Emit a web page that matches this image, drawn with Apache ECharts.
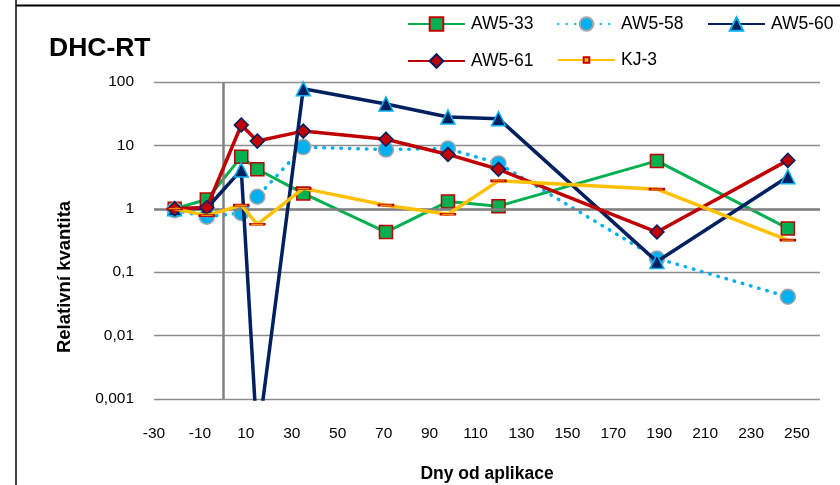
<!DOCTYPE html>
<html>
<head>
<meta charset="utf-8">
<script src="https://cdn.jsdelivr.net/npm/echarts@6/dist/echarts.min.js"></script>
<style>
  html, body { margin: 0; padding: 0; background: #fff; }
  #chart { width: 840px; height: 485px; }
</style>
</head>
<body>
<div id="chart"></div>
<script>
// Days relative to application
const days = [-21, -7, 8, 15, 35, 71, 98, 120, 189, 246];

// Relative quantity per sample
const aw533 = [1, 1.4, 6.6, 4.2, 1.75, 0.43, 1.3, 1.1, 5.7, 0.49];
const aw558 = [0.95, 0.75, 0.86, 1.55, 9.4, 8.6, 8.9, 5.2, 0.165, 0.041];
const aw560 = [1, 1.02, 4.1, 0.0002, 78, 45, 28, 26.4, 0.147, 3.2];
const aw561 = [1, 1.05, 21, 11.7, 16.8, 12.5, 7.2, 4.2, 0.43, 5.8];
const kj3   = [1, 0.78, 1.14, 0.57, 2.1, 1.14, 0.82, 2.76, 2.04, 0.32];

const seriesNames = ['AW5-33', 'AW5-58', 'AW5-60', 'AW5-61', 'KJ-3'];

const FONT = "'Liberation Sans', Arial, sans-serif";

function pairs(vals) {
  return days.map((d, i) => [d, vals[i]]);
}

// one legend entry per slot: three columns, two rows
const legendSlots = [[407, 15], [557, 15], [707, 15], [407, 52], [557, 51]];
const legends = seriesNames.map((name, i) => {
  const small = name === 'KJ-3';
  return {
    data: [name],
    left: legendSlots[i][0],
    top: legendSlots[i][1],
    padding: 0,
    itemWidth: 57,
    itemHeight: small ? 7 : 17,
    textStyle: { fontFamily: FONT, fontSize: 17.5, color: '#000', padding: [0, 0, 0, 1] }
  };
});

const chart = echarts.init(document.getElementById('chart'), null, { renderer: 'canvas' });

chart.setOption({
  backgroundColor: '#fff',
  animation: false,
  title: {
    text: 'DHC-RT',
    left: 49,
    top: 35,
    padding: 0,
    textStyle: { fontFamily: FONT, fontSize: 26.5, fontWeight: 'bold', color: '#000' }
  },
  legend: legends,
  grid: { left: 154, right: 20, top: 82, bottom: 86, outerBoundsMode: 'none' },
  xAxis: {
    type: 'value',
    min: -30,
    max: 260,
    interval: 20,
    name: 'Dny od aplikace',
    nameLocation: 'middle',
    nameGap: 66,
    nameTextStyle: { fontFamily: FONT, fontSize: 17.5, fontWeight: 'bold', color: '#000' },
    axisLine: { show: false },
    axisTick: { show: false },
    splitLine: { show: false },
    axisLabel: {
      fontFamily: FONT, fontSize: 15.5, color: '#000', margin: 27,
      showMaxLabel: false
    }
  },
  yAxis: {
    type: 'log',
    logBase: 10,
    min: 0.001,
    max: 100,
    axisLine: { show: false },
    axisTick: { show: false },
    splitLine: { show: true, lineStyle: { color: '#8c8c8c', width: 1.3 } },
    axisLabel: {
      fontFamily: FONT, fontSize: 15.5, color: '#000', margin: 20,
      formatter: v => String(Number(Number(v).toPrecision(6))).replace('.', ',')
    }
  },
  graphic: [
    // chart frame (left and top edges)
    { type: 'line', shape: { x1: 16, y1: 0, x2: 16, y2: 485 }, style: { stroke: '#000', lineWidth: 1.5 } },
    { type: 'line', shape: { x1: 16, y1: 5.5, x2: 840, y2: 5.5 }, style: { stroke: '#000', lineWidth: 2 } },
    {
      type: 'text', x: 65, y: 277, rotation: Math.PI / 2,
      style: {
        text: 'Relativní kvantita', fontFamily: FONT, fontSize: 18.5, fontWeight: 'bold',
        fill: '#000', align: 'center', verticalAlign: 'middle'
      }
    }
  ],
  series: [
    {
      // axis crossing lines at x = 0 and y = 1
      name: 'axes',
      type: 'line',
      data: [],
      silent: true,
      z: 1,
      markLine: {
        silent: true,
        symbol: 'none',
        label: { show: false },
        lineStyle: { color: '#808080', width: 2.5, type: 'solid' },
        data: [{ xAxis: 0 }, { yAxis: 1 }]
      }
    },
    {
      name: 'AW5-33', type: 'line', data: pairs(aw533), z: 3,
      symbol: 'rect', symbolSize: 13,
      lineStyle: { color: '#00B050', width: 3 },
      itemStyle: { color: '#00B050', borderColor: '#C00000', borderWidth: 1.5 }
    },
    {
      name: 'AW5-58', type: 'line', data: pairs(aw558), z: 4,
      symbol: 'circle', symbolSize: 15,
      lineStyle: { color: '#00B0F0', width: 3.5, type: [0.5, 8], cap: 'round' },
      itemStyle: { color: '#00B0F0', borderColor: '#A6A6A6', borderWidth: 1.5 }
    },
    {
      name: 'AW5-60', type: 'line', data: pairs(aw560), z: 5,
      symbol: 'triangle', symbolSize: 14,
      lineStyle: { color: '#002060', width: 3.5 },
      itemStyle: { color: '#002060', borderColor: '#00B0F0', borderWidth: 1.5 }
    },
    {
      name: 'AW5-61', type: 'line', data: pairs(aw561), z: 6,
      symbol: 'diamond', symbolSize: 14,
      lineStyle: { color: '#C00000', width: 3.5 },
      itemStyle: { color: '#C00000', borderColor: '#002060', borderWidth: 1.5 }
    },
    {
      name: 'KJ-3', type: 'line', data: pairs(kj3), z: 7,
      symbol: 'path://M0,0H28V10H0Z', symbolKeepAspect: true, symbolSize: [14, 5],
      lineStyle: { color: '#FFC000', width: 3.5 },
      itemStyle: { color: '#FFC000', borderColor: '#C00000', borderWidth: 1.5 }
    }
  ]
});
</script>
</body>
</html>
